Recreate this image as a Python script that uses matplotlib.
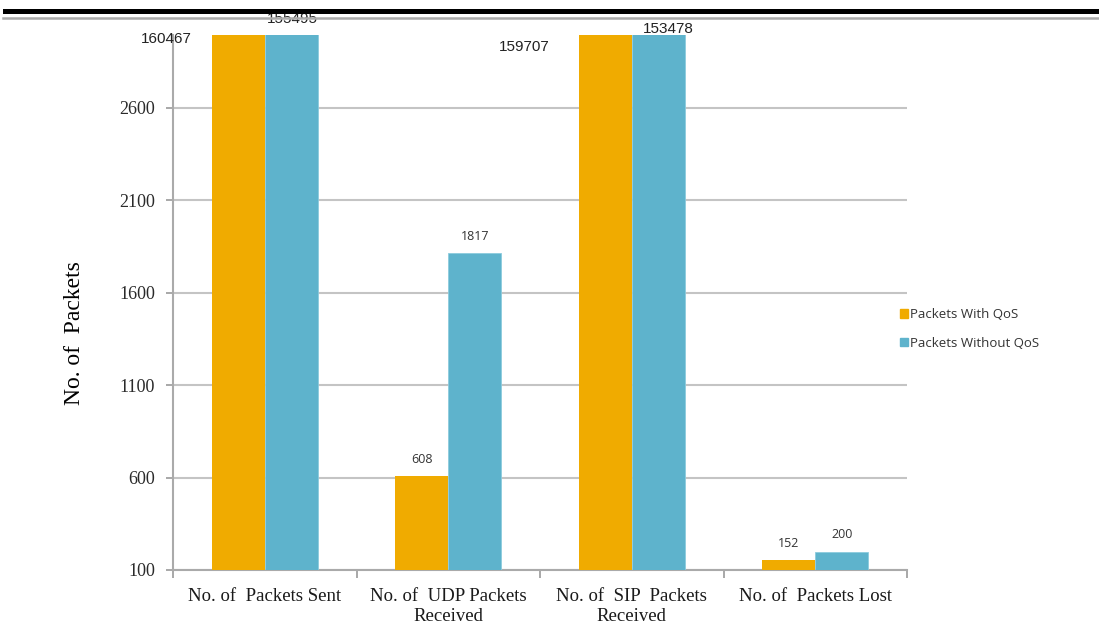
import numpy as np
import matplotlib.pyplot as plt
from matplotlib.lines import Line2D
from matplotlib.patches import Patch

categories = ["No. of  Packets Sent", "No. of  UDP Packets\nReceived",
              "No. of  SIP  Packets\nReceived", "No. of  Packets Lost"]
with_qos = np.array([160467, 608, 159707, 152])
without_qos = np.array([155495, 1817, 153478, 200])
yticks = [100, 600, 1100, 1600, 2100, 2600]

orange = "#F0AB00"
blue = "#5EB3CC"
grid_c = "#C4C4C4"

fig = plt.figure(figsize=(10.99, 6.27), dpi=100)
ax = fig.add_axes([173/1099, 1 - 570/627, (907-173)/1099, (570-35)/627])

x = np.arange(len(categories))
w = 0.29
ax.bar(x - w/2, with_qos, w, color=orange, zorder=3)
ax.bar(x + w/2, without_qos, w, color=blue, edgecolor="#8CCBDD", linewidth=0.6, zorder=3)

ax.set_xlim(-0.5, 3.5)
ax.set_ylim(100, 2995)
ax.set_yticks(yticks)
ax.set_yticklabels([str(t) for t in yticks], fontfamily="Liberation Serif", fontsize=13, color="#2a2a2a")
ax.yaxis.grid(True, color=grid_c, linewidth=1.5, zorder=0)
ax.set_axisbelow(True)

# category separators on the x axis
ax.set_xticks([-0.5, 0.5, 1.5, 2.5, 3.5])
ax.set_xticklabels([])
ax.set_xticks(x, minor=True)
ax.set_xticklabels(categories, minor=True, fontfamily="Liberation Serif", fontsize=13.5, color="#1a1a1a")
ax.tick_params(axis="x", which="minor", length=0, pad=13)
ax.tick_params(axis="x", which="major", length=6, color="#999999", width=1.2)
ax.tick_params(axis="y", length=5, color="#999999", width=1.2, pad=8)

for s in ["top", "right"]:
    ax.spines[s].set_visible(False)
for s in ["left", "bottom"]:
    ax.spines[s].set_color("#AAAAAA")
    ax.spines[s].set_linewidth(1.5)

ax.set_ylabel("No. of  Packets", fontfamily="Liberation Serif", fontsize=17)
ax.yaxis.set_label_coords(-0.12, 0.443)

# values that run past the top of the axis
big_offsets = {(0, 0): (-52, -3), (0, 1): (1, 11.5), (2, 0): (-58, -8.5), (2, 1): (7, 4)}
for (i, s), (dx, dy) in big_offsets.items():
    xpos = x[i] - w/2 if s == 0 else x[i] + w/2
    val = with_qos[i] if s == 0 else without_qos[i]
    ax.annotate(str(val), xy=(xpos, 1), xycoords=("data", "axes fraction"),
                xytext=(dx, dy), textcoords="offset points", ha="center", va="center",
                fontsize=11, fontfamily="Liberation Sans", color="#222222", annotation_clip=False)

# values inside the range
for i in [1, 3]:
    for xpos, val in [(x[i] - w/2, with_qos[i]), (x[i] + w/2, without_qos[i])]:
        ax.annotate(str(val), xy=(xpos, val), xytext=(0, 12), textcoords="offset points",
                    ha="center", va="center", fontsize=9, fontfamily="Open Sans", color="#333333")

handles = [Patch(color=orange, label="Packets With QoS"), Patch(color=blue, label="Packets Without QoS")]
fig.legend(handles=handles, loc="center left", bbox_to_anchor=(888/1099, 1 - 329/627), frameon=False,
           prop={"family": "Open Sans", "size": 9.5}, handlelength=0.6, handleheight=0.6,
           handletextpad=0.2, labelspacing=1.2, labelcolor="#333333")

# page border lines above the chart
fig.add_artist(Line2D([5/1099, 1], [1 - 11/627, 1 - 11/627], color="black", linewidth=3.6))
fig.add_artist(Line2D([3/1099, 1], [1 - 17.5/627, 1 - 17.5/627], color="#AAAAAA", linewidth=1.8))

fig.savefig("out.png", dpi=100)
